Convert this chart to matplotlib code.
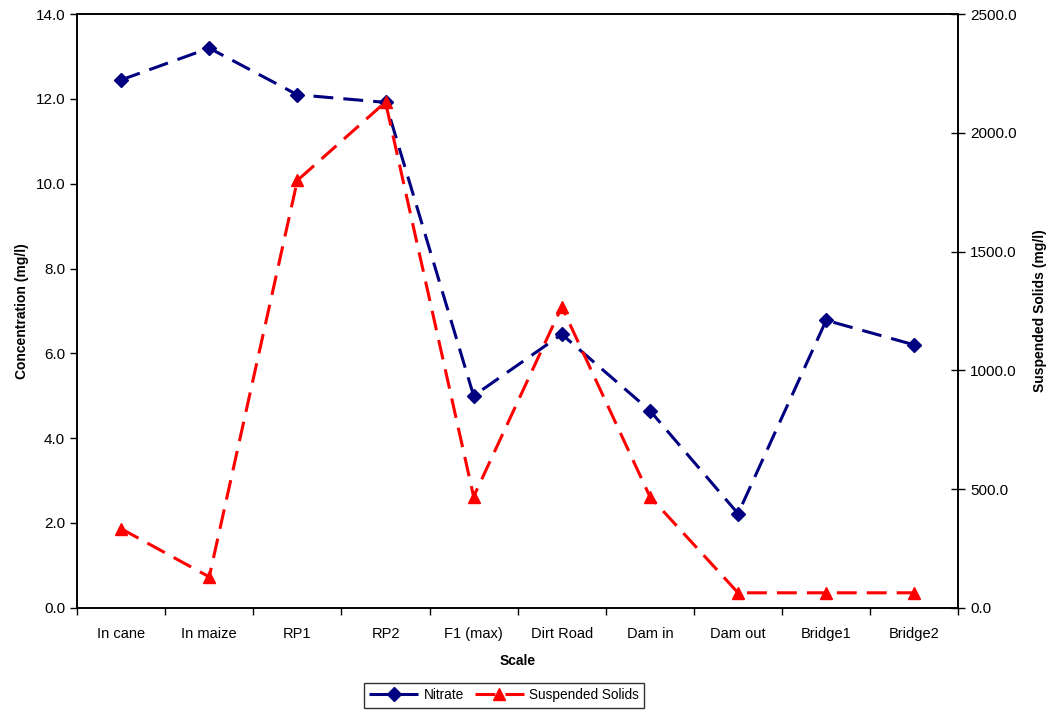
import numpy as np
import matplotlib
matplotlib.use("Agg")
import matplotlib.pyplot as plt
from matplotlib.ticker import FixedLocator, FormatStrFormatter

plt.rcParams['font.family'] = ['Liberation Sans', 'DejaVu Sans']

sites = ["In cane", "In maize", "RP1", "RP2", "F1 (max)", "Dirt Road",
         "Dam in", "Dam out", "Bridge1", "Bridge2"]
nitrate = [12.45, 13.2, 12.1, 11.92, 5.0, 6.45, 4.65, 2.22, 6.78, 6.2]
solids = [333, 130, 1800, 2130, 468, 1268, 468, 63, 63, 63]

fig = plt.figure(figsize=(10.48, 7.1), dpi=100)
ax = fig.add_axes([0.0735, 0.144, 0.841, 0.836])
ax2 = ax.twinx()

x = np.arange(len(sites))
dash = (0, (6.5, 3.3))
l1, = ax.plot(x, nitrate, color="#000080", lw=2.2, linestyle=dash,
              marker="D", ms=7, label="Nitrate")
l2, = ax2.plot(x, solids, color="#FF0000", lw=2.2, linestyle=dash,
               marker="^", ms=8, label="Suspended Solids")

ax.set_xlim(-0.5, len(sites) - 0.5)
ax.set_ylim(0, 14)
ax2.set_ylim(0, 2500)
ax.set_yticks(np.arange(0, 14.1, 2))
ax.yaxis.set_major_formatter(FormatStrFormatter("%.1f"))
ax2.set_yticks(np.arange(0, 2501, 500))
ax2.yaxis.set_major_formatter(FormatStrFormatter("%.1f"))

ax.set_xticks(x)
ax.set_xticklabels(sites)
ax.xaxis.set_minor_locator(FixedLocator(np.arange(-0.5, len(sites), 1)))
ax.tick_params(axis="x", which="major", length=0, pad=14, labelsize=10.5)
ax.tick_params(axis="x", which="minor", length=5, direction="out", width=1)
ax.tick_params(axis="y", length=5, direction="out", labelsize=11, width=1)
ax2.tick_params(axis="y", length=10, direction="inout", labelsize=11, width=1)

for a in (ax, ax2):
    for s in a.spines.values():
        s.set_linewidth(1.2)

ax.set_xlabel("Scale", fontweight="bold", fontsize=10, labelpad=9)
ax.set_ylabel("Concentration (mg/l)", fontweight="bold", fontsize=10, labelpad=5)
ax2.set_ylabel("Suspended Solids (mg/l)", fontweight="bold", fontsize=10, labelpad=12)

leg = fig.legend(handles=[l1, l2], loc="center", bbox_to_anchor=(0.481, 0.021),
                 ncol=2, frameon=True, fancybox=False, edgecolor="black",
                 fontsize=9.8, handlelength=3.6, columnspacing=0.8,
                 borderpad=0.4, handletextpad=0.4)
leg.get_frame().set_linewidth(1.0)

fig.savefig("out.png", dpi=100)
